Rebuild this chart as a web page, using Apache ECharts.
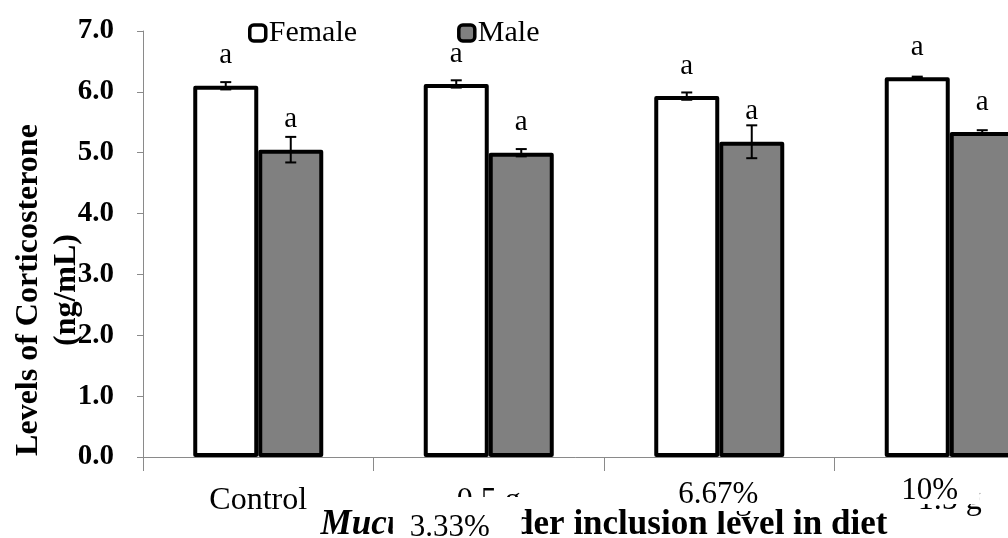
<!DOCTYPE html>
<html>
<head>
<meta charset="utf-8">
<script src="https://cdn.jsdelivr.net/npm/echarts@6/dist/echarts.min.js"></script>
<style>
html,body{margin:0;padding:0;background:#fff;}
#chart{width:1008px;height:538px;}
</style>
</head>
<body>
<div id="chart"></div>
<script>
// ---- data ----
const categories = ['Control', '0.5 g', '1.0 g', '1.5 g'];
const overlayLabels = ['', '3.33%', '6.67%', '10%'];
const femaleMean = [6.10, 6.13, 5.93, 6.24];
const femaleErr = [0.06, 0.06, 0.06, 0.01];
const maleMean = [5.05, 5.00, 5.18, 5.34];
const maleErr = [0.21, 0.06, 0.27, 0.03];
const femaleLetters = ['a', 'a', 'a', 'a'];
const maleLetters = ['a', 'a', 'a', 'a'];
const yTicks = [0, 1, 2, 3, 4, 5, 6, 7];

// ---- layout / style ----
const SERIF = '"Liberation Serif", "Times New Roman", serif';
const BAR_FRAC = 0.282;

function errData(means, errs) {
  return means.map((m, i) => [i, m, errs[i]]);
}

function makeRender(sign, letters) {
  return function (params, api) {
    const cat = api.value(0), m = api.value(1), e = api.value(2);
    const band = api.size([1, 0])[0];
    const bw = band * BAR_FRAC;
    const cx = api.coord([cat, 0])[0] + sign * bw / 2;
    const pTop = api.coord([cat, m + e])[1];
    const pBot = api.coord([cat, m - e])[1];
    const pMean = api.coord([cat, m])[1];
    const cap = 11;
    const ls = { stroke: '#000', lineWidth: 2 };
    return {
      type: 'group',
      children: [
        { type: 'line', shape: { x1: cx, y1: pTop, x2: cx, y2: pBot }, style: ls },
        { type: 'line', shape: { x1: cx - cap / 2, y1: pTop, x2: cx + cap / 2, y2: pTop }, style: ls },
        { type: 'line', shape: { x1: cx - cap / 2, y1: pBot, x2: cx + cap / 2, y2: pBot }, style: ls },
        {
          type: 'text', x: cx, y: pMean - 30,
          style: {
            text: letters[params.dataIndex], fill: '#000',
            font: '29px ' + SERIF,
            align: 'center', verticalAlign: 'middle',
            textAlign: 'center', textVerticalAlign: 'middle'
          }
        }
      ]
    };
  };
}

const axisGray = '#8a8a8a';

const option = {
  animation: false,
  backgroundColor: '#fff',
  grid: { left: 143, width: 922, top: 31, bottom: 81, containLabel: false, outerBoundsMode: 'none' },
  legend: {
    data: ['Female', 'Male'],
    left: 243, top: 13,
    icon: 'roundRect',
    itemWidth: 16, itemHeight: 16, itemGap: 100,
    itemStyle: { borderWidth: 3.5, borderColor: '#000' },
    textStyle: { fontFamily: SERIF, fontSize: 30, color: '#000', padding: [0, 0, 0, -2] }
  },
  xAxis: {
    type: 'category',
    data: categories,
    axisLine: { lineStyle: { color: axisGray, width: 1 } },
    axisTick: { show: true, length: 14, lineStyle: { color: axisGray } },
    axisLabel: { fontFamily: SERIF, fontSize: 32, color: '#000', margin: 28, lineHeight: 32, interval: 0 },
    name: '{i|Mucuna} powder inclusion level in diet',
    nameLocation: 'middle',
    nameGap: 50,
    nameMoveOverlap: false,
    nameTextStyle: {
      fontFamily: SERIF, fontSize: 35, fontWeight: 'bold', color: '#000', lineHeight: 35,
      rich: { i: { fontFamily: SERIF, fontSize: 35, fontWeight: 'bold', fontStyle: 'italic', color: '#000', lineHeight: 35 } }
    }
  },
  yAxis: {
    type: 'value',
    min: 0, max: 7, interval: 1,
    axisLine: { show: true, lineStyle: { color: axisGray, width: 1 } },
    axisTick: { show: true, length: 6, lineStyle: { color: axisGray } },
    splitLine: { show: false },
    axisLabel: {
      fontFamily: SERIF, fontSize: 29, fontWeight: 'bold', color: '#000', margin: 29,
      formatter: v => yTicks.indexOf(v) >= 0 ? v.toFixed(1) : ''
    }
  },
  series: [
    {
      name: 'Female', type: 'bar', data: femaleMean,
      barWidth: (BAR_FRAC * 100) + '%', barGap: '0%',
      itemStyle: { color: '#ffffff', borderColor: '#000', borderWidth: 4, borderJoin: 'round' },
      z: 2
    },
    {
      name: 'Male', type: 'bar', data: maleMean,
      barWidth: (BAR_FRAC * 100) + '%', barGap: '0%',
      itemStyle: { color: '#808080', borderColor: '#000', borderWidth: 4, borderJoin: 'round' },
      z: 2
    },
    {
      name: 'Female SE', type: 'custom', data: errData(femaleMean, femaleErr),
      encode: { x: 0, y: 1 }, renderItem: makeRender(-1, femaleLetters), z: 5, clip: false
    },
    {
      name: 'Male SE', type: 'custom', data: errData(maleMean, maleErr),
      encode: { x: 0, y: 1 }, renderItem: makeRender(1, maleLetters), z: 5, clip: false
    }
  ]
};

const chart = echarts.init(document.getElementById('chart'), null, { renderer: 'canvas' });
chart.setOption(option);

// overlay boxes (relative to category centre): rect [dx, y, w, h], text centre [dx, y]
const overlayGeom = [
  null,
  { rect: [-96, 497, 129, 41], text: [-39, 528] },
  { rect: [-43, 481, 86, 30], text: [-1, 495] },
  { rect: [-53, 478, 83, 26], text: [-20, 491] }
];

const graphics = [];
overlayLabels.forEach((t, i) => {
  const g = overlayGeom[i];
  if (!t || !g) return;
  const cx = chart.convertToPixel({ xAxisIndex: 0 }, categories[i]);
  graphics.push({
    type: 'rect', z: 100,
    shape: { x: cx + g.rect[0], y: g.rect[1], width: g.rect[2], height: g.rect[3] },
    style: { fill: '#fff' }
  });
  graphics.push({
    type: 'text', z: 101,
    x: cx + g.text[0], y: g.text[1],
    style: { text: t, fill: '#000', font: '31px ' + SERIF, textAlign: 'center', textVerticalAlign: 'middle' }
  });
});
graphics.push({
  type: 'text', z: 50,
  x: 48, y: 290, rotation: Math.PI / 2,
  style: {
    text: 'Levels of Corticosterone\n(ng/mL)', fill: '#000',
    font: 'bold 32px ' + SERIF, lineHeight: 38,
    textAlign: 'center', textVerticalAlign: 'middle'
  }
});
chart.setOption({ graphic: graphics });
</script>
</body>
</html>
